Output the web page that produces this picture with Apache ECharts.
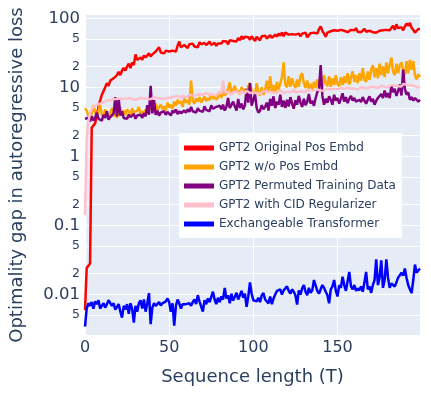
<!DOCTYPE html>
<html>
<head>
<meta charset="utf-8">
<script src="https://cdn.jsdelivr.net/npm/echarts@6/dist/echarts.min.js"></script>
<style>
  html, body { margin: 0; padding: 0; background: #fff; }
  #main { width: 431px; height: 395px; }
</style>
</head>
<body>
<div id="main"></div>
<script>
// sequence length T = 0..199
const seqLen = Array.from({ length: 200 }, (_, i) => i);

const gpt2Original = [
  0.0059, 0.024, 0.026, 0.028, 2.6, 2.7, 3.0, 3.9, 5.2, 6.4, 7.8, 8.8, 10, 11.5, 10.5, 12.5, 12, 13.5, 12.7, 15,
  16.7, 15, 17.5, 19, 17.5, 20, 22, 19, 23, 21, 30, 25, 24, 27, 25, 29, 27, 26, 31, 28,
  30, 29, 33, 31, 38, 32, 33, 31, 34, 32, 33, 35, 34, 36, 33, 40, 46, 38, 36, 41,
  39, 37, 42, 40, 43, 39, 41, 38, 45, 42, 40, 44, 41, 43, 46, 41, 42, 44, 40, 43,
  45, 43, 47, 44, 46, 42, 48, 45, 47, 50, 46, 52, 48, 55, 50, 54, 51, 53, 49, 55,
  52, 47, 54, 51, 48, 55, 53, 56, 51, 54, 57, 52, 55, 58, 54, 60, 56, 62, 55, 62,
  60, 58, 57, 59, 56, 58, 61, 60, 55, 60, 58, 62, 53, 56, 61, 58, 62, 64, 60, 70,
  76, 66, 60, 54, 62, 58, 65, 61, 67, 63, 66, 62, 68, 64, 66, 70, 63, 65, 68, 64,
  67, 72, 64, 68, 63, 65, 70, 64, 62, 66, 64, 63, 65, 62, 64, 66, 63, 67, 65, 68,
  64, 67, 70, 78, 68, 82, 72, 69, 74, 67, 76, 84, 78, 86, 73, 68, 62, 66, 70, 70
];

const gpt2NoPos = [
  5.0, 4.6, 3.9, 3.6, 4.2, 5.5, 4.4, 3.8, 4.5, 5.6, 4.0, 3.7, 4.8, 4.1, 3.6, 4.3, 5.0, 3.8, 4.4, 3.6,
  4.2, 5.2, 3.9, 4.6, 4.0, 4.8, 4.4, 3.7, 5.0, 4.3, 4.1, 4.6, 5.2, 4.0, 4.5, 3.9, 4.8, 4.2, 5.5, 4.6,
  5.2, 4.4, 5.8, 4.7, 5.0, 5.6, 4.8, 5.3, 4.6, 6.0, 5.1, 5.6, 4.9, 6.2, 5.4, 6.6, 5.8, 6.3, 5.2, 7.0,
  6.0, 6.5, 5.6, 12.5, 6.4, 5.8, 6.9, 6.2, 7.2, 6.0, 6.6, 7.4, 6.3, 7.0, 6.5, 8.0, 6.8, 7.5, 6.6, 7.2,
  8.5, 7.0, 9.0, 7.6, 8.2, 9.5, 11.8, 8.0, 9.2, 10.5, 8.4, 9.0, 7.8, 10.0, 8.6, 9.4, 8.0, 10.5, 11.5, 9.0,
  9.5, 8.0, 11.5, 8.2, 7.6, 10.0, 7.8, 9.0, 12.5, 8.8, 14.5, 8.6, 10.8, 8.4, 12.0, 9.2, 11.5, 14, 23, 11.0,
  10.0, 14.5, 10.2, 13.5, 11.0, 9.8, 13.0, 10.2, 14.5, 16, 11.5, 9.8, 12.5, 9.6, 11.2, 9.4, 12.0, 9.8, 13.0, 10.2,
  12.0, 9.6, 15, 11.5, 10.4, 14.5, 10.2, 13.5, 10.8, 15, 11.2, 10.4, 14.0, 10.8, 14.5, 11.5, 16, 11.0, 14.0, 17,
  12.0, 15, 11.5, 16, 12.5, 19, 13.0, 12.0, 17, 12.8, 18, 21, 14, 19, 13.5, 22, 15, 20, 14, 23,
  16, 21, 27, 17, 15, 22, 16, 21, 23, 17, 15, 24, 16, 25, 18, 24, 15, 13, 15.5, 14
];

const gpt2Permuted = [
  3.5, 3.3, 3.6, 3.2, 3.8, 3.3, 3.6, 4.3, 3.5, 3.7, 3.3, 4.0, 3.6, 4.5, 3.4, 3.7, 3.5, 4.2, 7.2, 3.8,
  7.0, 3.9, 4.5, 3.6, 3.8, 3.5, 4.0, 3.7, 3.6, 4.1, 3.5, 3.9, 3.7, 4.0, 3.6, 4.2, 3.8, 5.5, 4.0, 10.5,
  4.2, 6.5, 4.0, 4.6, 3.9, 4.3, 4.1, 4.5, 4.0, 4.4, 4.2, 3.9, 4.6, 4.3, 4.8, 4.1, 4.5, 4.2, 4.0, 4.6,
  4.3, 4.8, 4.4, 5.2, 4.5, 4.7, 4.3, 5.0, 4.6, 4.8, 4.4, 5.3, 4.7, 5.0, 4.5, 5.5, 4.9, 4.6, 5.2, 5.0,
  5.4, 4.8, 5.6, 4.6, 5.2, 7.0, 5.0, 4.7, 6.2, 5.3, 4.6, 6.8, 5.0, 5.8, 4.8, 5.5, 9.5, 6.0, 11.5, 5.4,
  5.6, 8.0, 5.0, 4.3, 4.6, 5.5, 4.8, 5.2, 6.0, 4.6, 6.8, 5.4, 7.4, 5.0, 6.2, 5.6, 7.8, 5.2, 6.4, 5.0,
  6.6, 5.3, 7.2, 5.8, 4.9, 6.5, 5.6, 7.5, 6.0, 5.2, 6.8, 5.5, 6.2, 8.0, 5.8, 6.4, 5.4, 7.0, 8.5, 9.5,
  21, 7.5, 5.6, 6.8, 6.0, 7.4, 6.6, 5.6, 7.8, 6.4, 7.0, 5.8, 6.8, 8.2, 6.2, 7.2, 5.9, 6.8, 7.5, 6.4,
  7.0, 6.2, 5.8, 6.6, 6.1, 7.2, 6.4, 5.8, 6.6, 7.4, 6.2, 6.8, 5.6, 6.4, 7.0, 6.6, 8.0, 7.0, 9.0, 7.2,
  8.2, 7.0, 10.5, 8.5, 9.5, 7.5, 8.8, 11, 7.6, 18, 9.5, 7.8, 8.5, 6.6, 7.2, 6.4, 7.0, 6.8, 6.2, 6.6
];

const gpt2Cid = [
  0.14, 1.8, 3.2, 4.2, 4.8, 5.2, 5.5, 5.6, 5.8, 5.8, 6.0, 6.1, 6.2, 6.4, 6.3, 6.5, 6.4, 6.7, 6.5, 6.8,
  6.6, 6.9, 6.7, 6.8, 6.6, 6.9, 6.7, 7.0, 6.8, 6.6, 6.9, 6.7, 6.8, 7.0, 6.7, 6.9, 7.1, 6.8, 7.0, 6.7,
  6.9, 7.2, 6.8, 7.0, 7.3, 6.9, 7.1, 6.8, 7.2, 7.0, 7.4, 7.1, 6.9, 7.3, 7.0, 7.5, 7.2, 7.0, 7.6, 7.3,
  7.1, 7.5, 7.8, 7.3, 7.6, 7.2, 7.7, 7.4, 8.0, 7.5, 7.8, 7.6, 8.2, 7.7, 7.9, 8.3, 7.8, 8.1, 7.6, 8.4,
  8.0, 8.2, 12.5, 8.4, 8.0, 8.6, 8.2, 7.8, 8.5, 8.1, 8.7, 8.3, 8.0, 8.8, 8.4, 8.2, 9.0, 8.5, 8.3, 8.8,
  8.4, 8.9, 8.2, 8.6, 8.0, 8.5, 8.8, 8.3, 8.6, 8.1, 8.5, 8.9, 8.4, 8.7, 8.2, 8.6, 9.0, 8.5, 8.3, 8.8,
  8.6, 8.9, 8.4, 8.7, 9.1, 8.5, 8.8, 8.6, 9.0, 8.7, 8.9, 8.5, 9.2, 8.8, 9.0, 8.6, 9.1, 8.9, 9.3, 8.8,
  9.0, 9.4, 8.9, 9.2, 9.6, 9.0, 9.3, 8.9, 9.5, 9.1, 9.4, 9.0, 9.7, 9.2, 9.5, 9.3, 9.8, 9.4, 9.6, 9.2,
  9.6, 9.9, 9.4, 9.7, 10.0, 9.5, 9.8, 10.2, 9.6, 9.9, 10.3, 9.7, 10.0, 10.4, 9.8, 10.1, 10.5, 9.9, 10.2, 10.6,
  10.0, 10.4, 10.8, 10.2, 10.6, 11.0, 10.4, 10.8, 10.3, 11.2, 10.6, 10.9, 11.4, 10.7, 11.0, 10.5, 10.8, 10.2, 10.0, 9.8
];

const exchangeable = [
  0.0034, 0.0062, 0.0074, 0.0068, 0.0077, 0.0062, 0.0079, 0.0072, 0.0082, 0.0062, 0.0068, 0.0074, 0.0064, 0.0072, 0.0082, 0.0077, 0.0068, 0.0074, 0.0060, 0.0064,
  0.0072, 0.0056, 0.0046, 0.0068, 0.0060, 0.0072, 0.0052, 0.0074, 0.0062, 0.0039, 0.0068, 0.0056, 0.0074, 0.0082, 0.0062, 0.0084, 0.0056, 0.0074, 0.0104, 0.0037,
  0.0064, 0.0074, 0.0068, 0.0072, 0.0077, 0.0069, 0.0074, 0.0072, 0.0079, 0.0087, 0.0077, 0.0056, 0.0074, 0.0035, 0.0068, 0.0084, 0.0074, 0.0062, 0.0072, 0.0068,
  0.0072, 0.0069, 0.0074, 0.0068, 0.0077, 0.0084, 0.0072, 0.0097, 0.0079, 0.0074, 0.0056, 0.0082, 0.0072, 0.0087, 0.0077, 0.0074, 0.0109, 0.0084, 0.0072, 0.0089,
  0.0077, 0.0093, 0.0084, 0.0124, 0.0087, 0.0097, 0.0074, 0.0102, 0.0081, 0.0092, 0.0105, 0.0084, 0.0097, 0.0112, 0.0089, 0.0102, 0.0066, 0.0093, 0.0149, 0.0102,
  0.0082, 0.0087, 0.0079, 0.0089, 0.0077, 0.0097, 0.0104, 0.0084, 0.0089, 0.0074, 0.0093, 0.0072, 0.0087, 0.0099, 0.0112, 0.0105, 0.0118, 0.0099, 0.0114, 0.0109,
  0.0130, 0.0112, 0.0102, 0.0118, 0.0109, 0.0097, 0.0071, 0.0114, 0.0099, 0.0122, 0.0136, 0.0109, 0.0097, 0.0124, 0.0105, 0.0114, 0.0161, 0.0155, 0.0112, 0.0102,
  0.0118, 0.0136, 0.0124, 0.0109, 0.0097, 0.0074, 0.0118, 0.0130, 0.0161, 0.0112, 0.0093, 0.0136, 0.0124, 0.0180, 0.0136, 0.0112, 0.0155, 0.0211, 0.0130, 0.0118,
  0.0136, 0.0112, 0.0122, 0.0114, 0.0130, 0.0109, 0.0149, 0.0211, 0.0118, 0.0130, 0.0105, 0.0136, 0.0161, 0.032, 0.0136, 0.0174, 0.031, 0.0124, 0.0161, 0.032,
  0.0174, 0.0124, 0.0143, 0.0136, 0.0130, 0.0149, 0.0174, 0.0167, 0.0205, 0.0186, 0.0236, 0.0174, 0.0136, 0.0118, 0.0104, 0.0161, 0.027, 0.0205, 0.0223, 0.0236
];

const seriesNames = [
  "GPT2 Original Pos Embd",
  "GPT2 w/o Pos Embd",
  "GPT2 Permuted Training Data",
  "GPT2 with CID Regularizer",
  "Exchangeable Transformer"
];
const seriesColors = ["#ff0000", "#ffa500", "#800080", "#ffc0cb", "#0000ff"];
const seriesValues = [gpt2Original, gpt2NoPos, gpt2Permuted, gpt2Cid, exchangeable];

const xTicks = [0, 50, 100, 150];
const yTicks = [0.005, 0.01, 0.02, 0.05, 0.1, 0.2, 0.5, 1, 2, 5, 10, 20, 50, 100];
const yTickText = ["5", "0.01", "2", "5", "0.1", "2", "5", "1", "2", "5", "10", "2", "5", "100"];

const textColor = "#2a3f5f";
const fontFamily = "'DejaVu Sans', Verdana, sans-serif";

const myChart = echarts.init(document.getElementById("main"));

myChart.setOption({
  animation: false,
  textStyle: { fontFamily: fontFamily },
  grid: {
    left: 81,
    right: 11,
    top: 15,
    bottom: 60,
    show: true,
    backgroundColor: "#E5ECF6",
    borderWidth: 0
  },
  legend: {
    left: 179,
    top: 133,
    orient: "vertical",
    backgroundColor: "#ffffff",
    padding: [9, 6, 8, 5],
    itemGap: 7,
    itemWidth: 30,
    itemHeight: 5,
    icon: "rect",
    textStyle: { color: textColor, fontSize: 12, fontFamily: fontFamily },
    data: seriesNames
  },
  xAxis: {
    type: "value",
    min: 0,
    max: 199,
    interval: 50,
    name: "Sequence length (T)",
    nameLocation: "middle",
    nameGap: 33,
    nameTextStyle: { color: textColor, fontSize: 18, fontFamily: fontFamily },
    axisLine: { show: false },
    axisTick: { show: false },
    axisLabel: {
      color: textColor,
      fontSize: 16,
      fontFamily: fontFamily,
      margin: 5,
      formatter: function (v) {
        return xTicks.indexOf(v) >= 0 ? String(v) : "";
      }
    },
    splitLine: { lineStyle: { color: "#ffffff", width: 1 } }
  },
  yAxis: {
    type: "log",
    logBase: 10,
    min: 0.00257,
    max: 111.7,
    name: "Optimality gap in autoregressive loss",
    nameLocation: "middle",
    nameGap: 59,
    nameTextStyle: { color: textColor, fontSize: 18, fontFamily: fontFamily },
    axisLine: { show: false },
    axisTick: { show: false, customValues: yTicks },
    axisLabel: {
      customValues: yTicks,
      margin: 5,
      formatter: function (v) {
        let best = 0;
        for (let i = 1; i < yTicks.length; i++) {
          if (Math.abs(Math.log10(yTicks[i] / v)) < Math.abs(Math.log10(yTicks[best] / v))) best = i;
        }
        const major = Math.abs(Math.log10(yTicks[best]) - Math.round(Math.log10(yTicks[best]))) < 1e-6;
        return (major ? "{maj|" : "{mnr|") + yTickText[best] + "}";
      },
      rich: {
        maj: { color: textColor, fontSize: 16.5, fontFamily: fontFamily },
        mnr: { color: textColor, fontSize: 12.5, fontFamily: fontFamily }
      }
    },
    splitLine: { lineStyle: { color: "#ffffff", width: 1 } }
  },
  series: seriesNames.map(function (name, k) {
    return {
      name: name,
      type: "line",
      showSymbol: false,
      symbol: "none",
      clip: true,
      lineStyle: { color: seriesColors[k], width: 2.5 },
      itemStyle: { color: seriesColors[k] },
      data: seqLen.map(function (t, i) { return [t, seriesValues[k][i]]; })
    };
  })
});
</script>
</body>
</html>
